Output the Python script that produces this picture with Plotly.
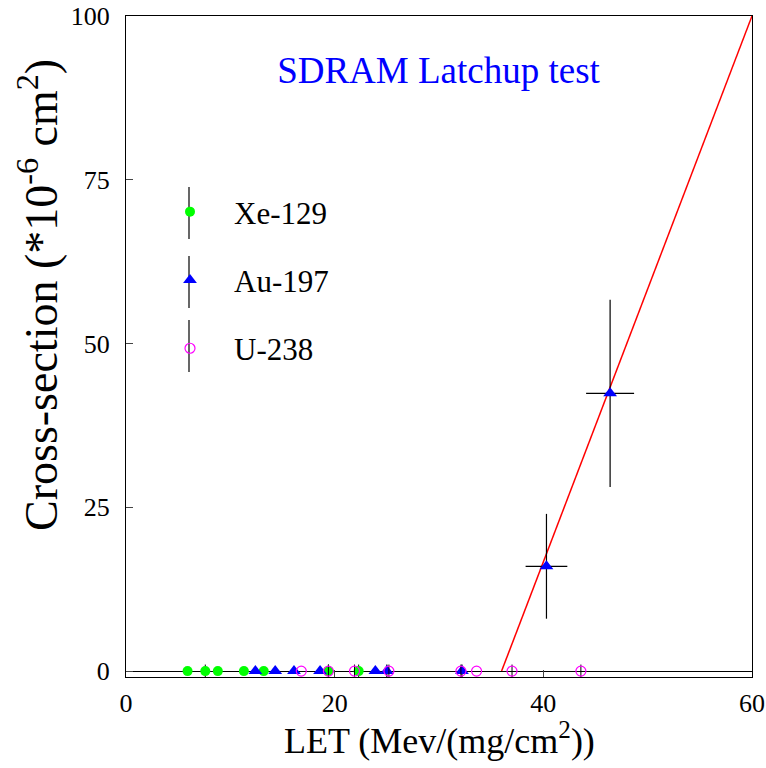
import plotly.graph_objects as go

# Data
xe_let = [5.9, 7.6, 8.8, 11.3, 13.2, 19.4, 22.3]
xe_cs = [0, 0, 0, 0, 0, 0, 0]
xe_err = [0, 1.0, 0, 0, 0, 1.0, 1.0]

au_let = [12.4, 14.3, 16.1, 18.6, 23.9, 25.0, 32.2, 40.3, 46.4]
au_cs = [0, 0, 0, 0, 0, 0, 0, 16.0, 42.4]
au_err = [0, 0, 0, 0, 0, 1.0, 1.0, 8.0, 14.3]
au_xerr = [0, 0, 0, 0, 0, 0, 0, 2.0, 2.3]

u_let = [16.8, 19.4, 21.9, 25.2, 32.1, 33.6, 37.0, 43.6]
u_cs = [0, 0, 0, 0, 0, 0, 0, 0]
u_err = [0, 1.0, 1.0, 1.0, 1.0, 0, 1.0, 1.0]

fit_let = [36.0, 60.0]
fit_cs = [0.0, 100.0]

FONT = "Liberation Serif"
W, H = 766, 768
ML, MR, MT, MB = 126, 14, 16, 91
PW, PH = W - ML - MR, H - MT - MB

fig = go.Figure()

fig.add_trace(go.Scatter(
    x=fit_let, y=fit_cs, mode="lines", line=dict(color="red", width=1.5),
    showlegend=False, hoverinfo="skip"))

fig.add_trace(go.Scatter(
    x=xe_let, y=xe_cs, mode="markers", name="Xe-129", legendgroup="xe",
    marker=dict(symbol="circle", size=10, color="#00ff00"),
    error_y=dict(type="data", array=xe_err, color="black", thickness=1, width=0)))

fig.add_trace(go.Scatter(
    x=au_let, y=au_cs, mode="markers", name="Au-197", legendgroup="au",
    marker=dict(symbol="triangle-up", size=12, color="#0000ff"),
    error_y=dict(type="data", array=au_err, color="black", thickness=1.2, width=0),
    error_x=dict(type="data", array=au_xerr, color="black", thickness=1.2, width=0)))

fig.add_trace(go.Scatter(
    x=u_let, y=u_cs, mode="markers", name="U-238", legendgroup="u",
    marker=dict(symbol="circle-open", size=10, color="#ff00ff", line=dict(width=1.2)),
    error_y=dict(type="data", array=u_err, color="black", thickness=1, width=0)))

# vertical bars through legend symbols (decoration of the legend keys)
def px_x(p):
    return (p - ML) / PW

def px_y(p):
    return (H - MB - p) / PH

for yc in [213, 282, 346]:
    fig.add_shape(type="line", xref="paper", yref="paper",
                  x0=px_x(189), x1=px_x(189),
                  y0=px_y(yc - 26), y1=px_y(yc + 26),
                  line=dict(color="black", width=1.2))

fig.add_annotation(
    text="Cross-section (*10<sup>-6</sup> cm<sup>2</sup>)", textangle=-90,
    xref="paper", yref="paper", x=px_x(38), y=px_y(295),
    xanchor="center", yanchor="middle", showarrow=False,
    font=dict(family=FONT, size=46, color="black"))

fig.add_annotation(
    text="LET (Mev/(mg/cm<sup>2</sup>))",
    xref="paper", yref="paper", x=px_x(439), y=px_y(738),
    xanchor="center", yanchor="middle", showarrow=False,
    font=dict(family=FONT, size=36, color="black"))

fig.update_layout(
    width=W, height=H,
    margin=dict(l=ML, r=MR, t=MT, b=MB),
    paper_bgcolor="white", plot_bgcolor="white",
    font=dict(family=FONT, color="black"),
    title=dict(text="SDRAM Latchup test", font=dict(family=FONT, size=37, color="#0000ff"),
               x=438.5 / W, xanchor="center", y=1 - 70 / H, yanchor="middle"),
    legend=dict(x=px_x(146), y=px_y(185), xanchor="left", yanchor="top",
                bgcolor="rgba(0,0,0,0)", font=dict(family=FONT, size=31),
                tracegroupgap=25, traceorder="grouped", itemwidth=78),
    xaxis=dict(range=[0, 60], tickvals=[0, 20, 40, 60], ticks="inside", ticklen=7,
               showline=True, linecolor="black", linewidth=1, mirror=True,
               showgrid=False, zeroline=False, automargin=False,
               tickfont=dict(family=FONT, size=26), ticklabelstandoff=3),
    yaxis=dict(range=[-0.9, 100], tickvals=[0, 25, 50, 75, 100], ticks="inside", ticklen=7,
               showline=True, linecolor="black", linewidth=1, mirror=True,
               showgrid=False, zeroline=True, zerolinecolor="black", zerolinewidth=1,
               automargin=False,
               tickfont=dict(family=FONT, size=26), ticklabelstandoff=10),
)

fig.write_html("out.html")
